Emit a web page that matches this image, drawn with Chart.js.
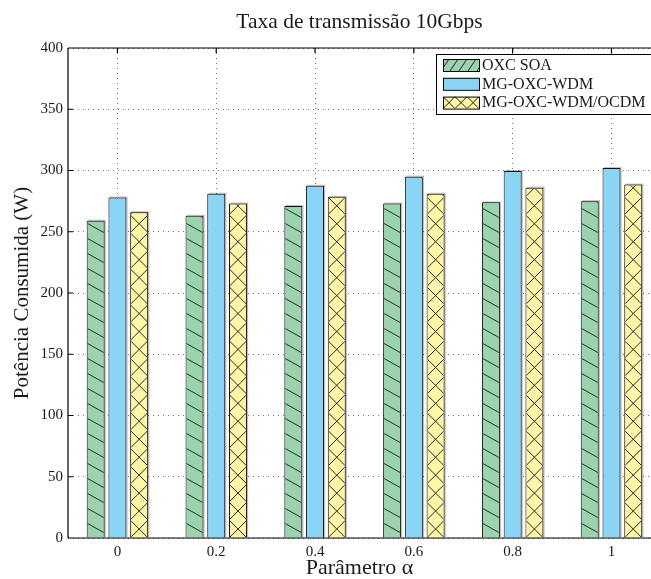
<!DOCTYPE html>
<html>
<head>
<meta charset="utf-8">
<script src="https://cdn.jsdelivr.net/npm/chart.js@4.4.1/dist/chart.umd.min.js"></script>
<style>
html, body { margin: 0; padding: 0; background: #fff; overflow: hidden; }
</style>
</head>
<body>
<canvas id="potencia" width="651" height="579"></canvas>
<script>
// valores (W)
var alphas = [0, 0.2, 0.4, 0.6, 0.8, 1];
var alphaLabels = ['0', '0.2', '0.4', '0.6', '0.8', '1'];
var oxcSoa = [259, 263, 271, 273, 274, 275];
var mgOxcWdm = [278, 281, 287.5, 295, 299.5, 302];
var mgOxcWdmOcdm = [266, 273, 278.5, 281, 286, 288.5];
var yTicks = [0, 50, 100, 150, 200, 250, 300, 350, 400];

var serif = "'Liberation Serif', 'Times New Roman', serif";
var ink = '#1a1a1a';

function pontos(vals) {
    return vals.map(function (v, i) { return { x: alphas[i], y: v }; });
}

// hachuras: '\' no OXC SOA, 'x' no WDM/OCDM
function hachura(ctx, tipo, l, t, w, h, base, passo) {
    ctx.beginPath();
    if (tipo === 'diag') {
        for (var k = -2; base - k * passo + w > t - passo; k++) {
            var y0 = base - k * passo;
            ctx.moveTo(l, y0);
            ctx.lineTo(l + w, y0 + w * 0.56);
        }
    } else if (tipo === 'cruz') {
        for (var j = -1; base - j * passo + passo > t - passo; j++) {
            var y1 = base - j * passo;
            ctx.moveTo(l, y1); ctx.lineTo(l + w, y1 - passo);
            ctx.moveTo(l, y1 - passo); ctx.lineTo(l + w, y1);
        }
    } else if (tipo === 'barra') {
        for (var x = l - 2; x < l + w + 9; x += 9) {
            ctx.moveTo(x, t + h);
            ctx.lineTo(x + 8, t);
        }
    }
    ctx.stroke();
}

var moldura = {
    id: 'moldura',
    beforeDatasetsDraw: function (chart) {
        var ctx = chart.ctx;
        var base = chart.scales.y.getPixelForValue(0);
        ctx.save();
        ctx.fillStyle = 'rgba(0,0,0,0.25)';
        chart.data.datasets.forEach(function (ds, di) {
            chart.getDatasetMeta(di).data.forEach(function (bar) {
                var p = bar.getProps(['x', 'y', 'width'], true);
                ctx.fillRect(p.x - p.width / 2 + 1.2, p.y - 1, p.width, base - p.y);
            });
        });
        ctx.restore();
    },
    afterDatasetsDraw: function (chart) {
        var ctx = chart.ctx;
        var base = chart.scales.y.getPixelForValue(0);
        chart.data.datasets.forEach(function (ds, di) {
            if (!ds.hatch) return;
            chart.getDatasetMeta(di).data.forEach(function (bar) {
                var p = bar.getProps(['x', 'y', 'width'], true);
                var l = p.x - p.width / 2;
                ctx.save();
                ctx.beginPath();
                ctx.rect(l + 1, p.y + 1, p.width - 2, base - p.y - 1);
                ctx.clip();
                ctx.strokeStyle = '#2a2a2a';
                ctx.lineWidth = 1;
                hachura(ctx, ds.hatch, l, p.y, p.width, base - p.y, base, ds.hatch === 'diag' ? 15 : p.width);
                ctx.restore();
            });
        });
    },
    afterDraw: function (chart) {
        var ctx = chart.ctx;
        var a = chart.chartArea;
        var xs = chart.scales.x, ys = chart.scales.y;
        ctx.save();
        ctx.strokeStyle = '#000';
        ctx.lineWidth = 1.2;
        ctx.beginPath();
        ctx.moveTo(a.left, a.top); ctx.lineTo(a.right, a.top);
        ctx.moveTo(a.left, a.top); ctx.lineTo(a.left, a.bottom);
        ctx.moveTo(a.left, a.bottom); ctx.lineTo(a.right, a.bottom);
        // marcas para dentro
        yTicks.forEach(function (v) {
            var y = ys.getPixelForValue(v);
            ctx.moveTo(a.left, y); ctx.lineTo(a.left + 5, y);
        });
        alphas.forEach(function (v) {
            var x = xs.getPixelForValue(v);
            ctx.moveTo(x, a.top); ctx.lineTo(x, a.top + 5);
        });
        ctx.stroke();

        // legenda
        var lx = 436, ly = 54, lh = 60;
        ctx.fillStyle = '#fff';
        ctx.fillRect(lx, ly, 230, lh);
        ctx.lineWidth = 1;
        ctx.strokeRect(lx + 0.5, ly + 0.5, 230, lh);
        ctx.font = '16px ' + serif;
        ctx.textBaseline = 'middle';
        chart.data.datasets.forEach(function (ds, i) {
            var sy = 59 + i * 18.8, sx = 443, sw = 36, sh = 12;
            ctx.fillStyle = ds.backgroundColor;
            ctx.fillRect(sx, sy, sw, sh);
            if (ds.hatch) {
                ctx.save();
                ctx.beginPath(); ctx.rect(sx, sy, sw, sh); ctx.clip();
                ctx.strokeStyle = '#222'; ctx.lineWidth = 1;
                if (ds.hatch === 'diag') {
                    hachura(ctx, 'barra', sx, sy, sw, sh, sy + sh, 9);
                } else {
                    ctx.beginPath();
                    for (var c = 0; c < 3; c++) {
                        ctx.moveTo(sx + c * 12, sy); ctx.lineTo(sx + c * 12 + 12, sy + sh);
                        ctx.moveTo(sx + c * 12, sy + sh); ctx.lineTo(sx + c * 12 + 12, sy);
                    }
                    ctx.stroke();
                }
                ctx.restore();
            }
            ctx.strokeStyle = '#000';
            ctx.strokeRect(sx + 0.5, sy + 0.5, sw, sh);
            ctx.fillStyle = ink;
            ctx.fillText(ds.label, 482, sy + sh / 2 + 0.5);
        });
        ctx.restore();
    }
};

var ctx = document.getElementById('potencia').getContext('2d');
var grafico = new Chart(ctx, {
    type: 'bar',
    data: {
        datasets: [{
            label: 'OXC SOA',
            data: pontos(oxcSoa),
            backgroundColor: '#9ad3ad',
            borderColor: '#111',
            borderWidth: 1,
            hatch: 'diag'
        }, {
            label: 'MG-OXC-WDM',
            data: pontos(mgOxcWdm),
            backgroundColor: '#8ad4f6',
            borderColor: '#111',
            borderWidth: 1
        }, {
            label: 'MG-OXC-WDM/OCDM',
            data: pontos(mgOxcWdmOcdm),
            backgroundColor: '#fff6a8',
            borderColor: '#111',
            borderWidth: 1,
            hatch: 'cruz'
        }]
    },
    options: {
        responsive: false,
        animation: false,
        categoryPercentage: 0.66,
        barPercentage: 0.826,
        layout: { padding: 0 },
        plugins: {
            legend: { display: false },
            tooltip: { enabled: false },
            title: {
                display: true,
                fullSize: false,
                text: 'Taxa de transmissão 10Gbps',
                color: ink,
                font: { family: serif, size: 21.5, weight: 'normal', lineHeight: 1.2 },
                padding: { top: 9.6, bottom: 12.6 }
            }
        },
        scales: {
            x: {
                type: 'linear',
                min: -0.1,
                max: 1.08,
                offset: false,
                afterBuildTicks: function (s) {
                    s.ticks = alphas.map(function (v) { return { value: v }; });
                },
                afterFit: function (s) { s.height = 41; },
                ticks: {
                    autoSkip: false,
                    maxRotation: 0,
                    padding: 5,
                    color: ink,
                    font: { family: serif, size: 15 },
                    callback: function (v, i) { return alphaLabels[i]; }
                },
                grid: { offset: false, drawTicks: false, color: '#777', lineWidth: 1 },
                border: { display: false, dash: [1, 4] },
                title: {
                    display: true,
                    text: 'Parâmetro α',
                    color: ink,
                    font: { family: serif, size: 22, lineHeight: 1 },
                    padding: 0
                }
            },
            y: {
                min: 0,
                max: 400,
                afterBuildTicks: function (s) {
                    s.ticks = yTicks.map(function (v) { return { value: v }; });
                },
                afterFit: function (s) { s.width = 68; },
                ticks: {
                    padding: 5,
                    color: ink,
                    font: { family: serif, size: 15 }
                },
                grid: { drawTicks: false, color: '#777', lineWidth: 1 },
                border: { display: false, dash: [1, 4] },
                title: {
                    display: true,
                    text: 'Potência Consumida (W)',
                    color: ink,
                    font: { family: serif, size: 21, lineHeight: 1.2 },
                    padding: { top: 10, bottom: 0 }
                }
            }
        }
    },
    plugins: [moldura]
});
</script>
</body>
</html>
